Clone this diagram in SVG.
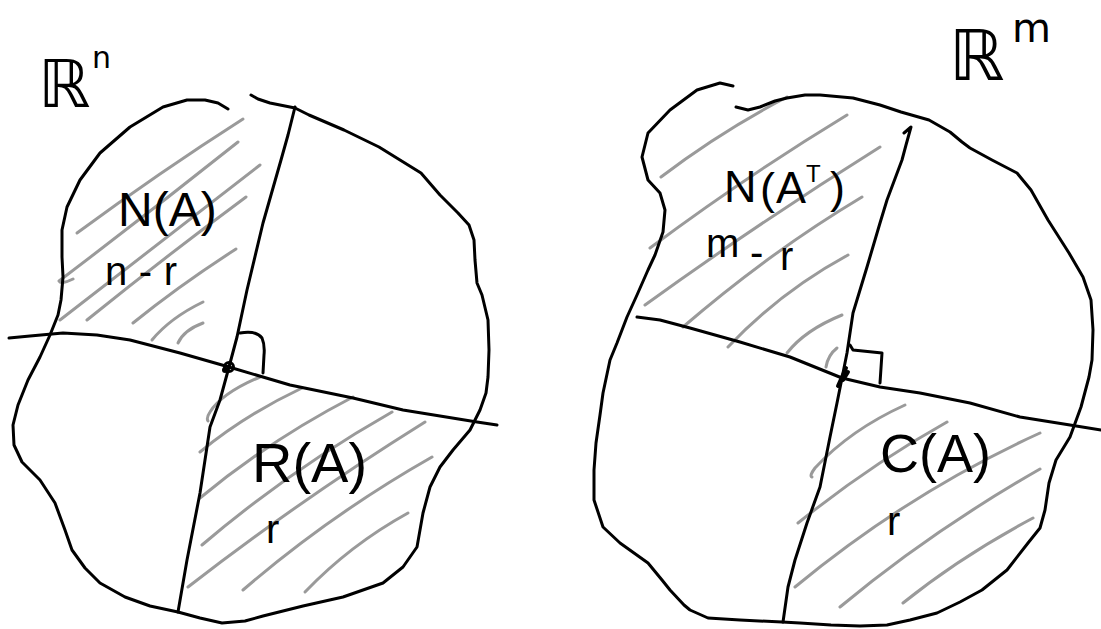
<svg xmlns="http://www.w3.org/2000/svg" width="1101" height="629" viewBox="0 0 1101 629">
<style>
.ink{fill:none;stroke:#000;stroke-width:3;stroke-linecap:round;stroke-linejoin:round}
.hatch{fill:none;stroke:#9a9a9a;stroke-width:3;stroke-linecap:round;stroke-linejoin:round}
.lbl{font-family:"Liberation Sans",Arial,sans-serif;fill:#000}
.bb{font-family:"DejaVu Sans","Liberation Sans",sans-serif;fill:#000}
</style>
<rect width="1101" height="629" fill="#fff"/>

<g id="hatches-left">
<path class="hatch" d="M243,119 Q160,172 77,233"/>
<path class="hatch" d="M238,142 Q150,212 59,281 Q61,285 73,279"/>
<path class="hatch" d="M260,165 Q160,242 60,320"/>
<path class="hatch" d="M246,197 Q165,257 87,320"/>
<path class="hatch" d="M236,249 Q180,285 133,323"/>
<path class="hatch" d="M203,302 Q170,318 152,340"/>
<path class="hatch" d="M203,323 Q184,330 178,343"/>
<path class="hatch" d="M260,377 Q222,393 210,412 Q206,418 208,421"/>
<path class="hatch" d="M302,388 Q245,415 200,452"/>
<path class="hatch" d="M353,397 Q270,440 200,498"/>
<path class="hatch" d="M392,412 Q290,470 202,545"/>
<path class="hatch" d="M425,422 Q300,500 188,587"/>
<path class="hatch" d="M432,457 Q330,515 243,590"/>
<path class="hatch" d="M408,513 Q350,545 305,592"/>
</g>

<g id="hatches-right">
<path class="hatch" d="M787,97 Q720,132 661,177"/>
<path class="hatch" d="M847,115 Q745,177 650,248"/>
<path class="hatch" d="M880,147 Q760,222 645,305"/>
<path class="hatch" d="M862,197 Q770,252 683,327"/>
<path class="hatch" d="M848,255 Q780,292 728,347"/>
<path class="hatch" d="M842,315 Q805,330 787,353"/>
<path class="hatch" d="M837,348 Q828,355 826,367"/>
<path class="hatch" d="M905,405 Q850,430 815,468 Q809,476 812,477"/>
<path class="hatch" d="M947,422 Q870,465 798,523"/>
<path class="hatch" d="M1040,433 Q910,492 795,587"/>
<path class="hatch" d="M1040,469 Q930,532 840,607"/>
<path class="hatch" d="M1033,518 Q960,557 903,603"/>
</g>

<g id="space-Rn">
<polyline class="ink" points="228,109 218,103 205,100 187,100 163,107 130,127 100,153 80,180 67,207 62,230 62,257 63,277 61,300 58,315 50,335 40,357 28,380 18,405 13,425 14,445 22,462 40,480 55,503 65,530 72,550 85,568 100,583 125,597 150,606 178,612 200,618 222,623 245,621 263,616 303,606 343,597 383,583 403,567 417,547 423,513 430,487 440,467 453,450 470,430 480,410 486,393 488,377 489,350 488,320 482,295 477,283 475,260 474,240 469,225 458,213 440,195 421,173 400,160 379,147 344,130 309,115 295,108 270,103 258,99 251,95"/>
<polyline class="ink" points="9,338 30,336 63,333 97,335 130,340 180,353 229,367 290,385 353,398 403,410 477,422 497,425"/>
<polyline class="ink" points="295,107 288,135 281,160 263,223 247,290 237,337 229,367 220,400 210,427 200,493 187,560 178,612"/>
<path class="ink" d="M240,333 Q256,330 262,338 Q265,345 264,355 L263,373"/>
<circle cx="229" cy="367" r="4.5" fill="none" stroke="#000" stroke-width="3"/>
<circle cx="225" cy="370" r="3" fill="#000"/>
</g>

<g id="space-Rm">
<polyline class="ink" points="736,107 748,110 760,107 775,101 787,98 805,95 820,95 853,98 880,105 901,112 929,120 950,132 962,142 970,148 992,160 1017,173 1031,190 1048,220 1069,253 1083,277 1091,300 1093,330 1092,360 1089,377 1081,407 1070,437 1056,460 1049,483 1045,510 1040,528 1028,543 1007,570 982,590 960,602 937,613 910,620 887,625 860,626 831,625 800,623 782,622 740,620 708,618 690,610 684,605 670,590 662,580 648,563 620,543 603,527 594,500 594,470 596,443 600,415 603,393 610,360 617,343 627,317 637,295 648,270 655,255 663,232 665,210 660,193 648,180 642,157 648,133 670,110 697,90 720,83 733,86"/>
<polyline class="ink" points="637,317 660,320 690,328 740,342 790,357 842,378 880,387 920,393 970,403 1020,417 1070,425 1101,430"/>
<polyline class="ink" points="904,133 911,127 906,145 902,160 887,200 880,223 867,267 853,313 847,353 843,373 837,403 830,437 820,487 807,523 795,560 788,587 783,622"/>
<path class="ink" d="M850,345 L853,350 L882,353 L880,383"/>
<path d="M838,386 L846,368 L840,382 L848,372 L843,380" fill="none" stroke="#000" stroke-width="4" stroke-linecap="round" stroke-linejoin="round"/>
</g>

<g id="labels">
<text class="bb" x="38" y="107" font-size="66">ℝ</text>
<text class="bb" x="92" y="68" font-size="30">n</text>
<text class="bb" x="949" y="80" font-size="70">ℝ</text>
<text class="bb" x="1012" y="42" font-size="40">m</text>
<text class="lbl" x="118" y="226" font-size="48">N(A)</text>
<text class="lbl" x="105" y="285" font-size="40" textLength="72" lengthAdjust="spacing">n-r</text>
<text class="lbl" x="252" y="482" font-size="56">R(A)</text>
<text class="lbl" x="266" y="543" font-size="40">r</text>
<text class="lbl" font-size="45"><tspan x="724" y="202">N</tspan><tspan x="760" y="204">(</tspan><tspan x="776" y="203">A</tspan><tspan x="806" y="182" font-size="24">T</tspan><tspan x="830" y="203">)</tspan></text>
<text class="lbl" font-size="40"><tspan x="706" y="257">m</tspan><tspan x="750" y="266">-</tspan><tspan x="780" y="270">r</tspan></text>
<text class="lbl" x="880" y="472" font-size="54">C(A)</text>
<text class="lbl" x="887" y="535" font-size="40">r</text>
</g>
</svg>
